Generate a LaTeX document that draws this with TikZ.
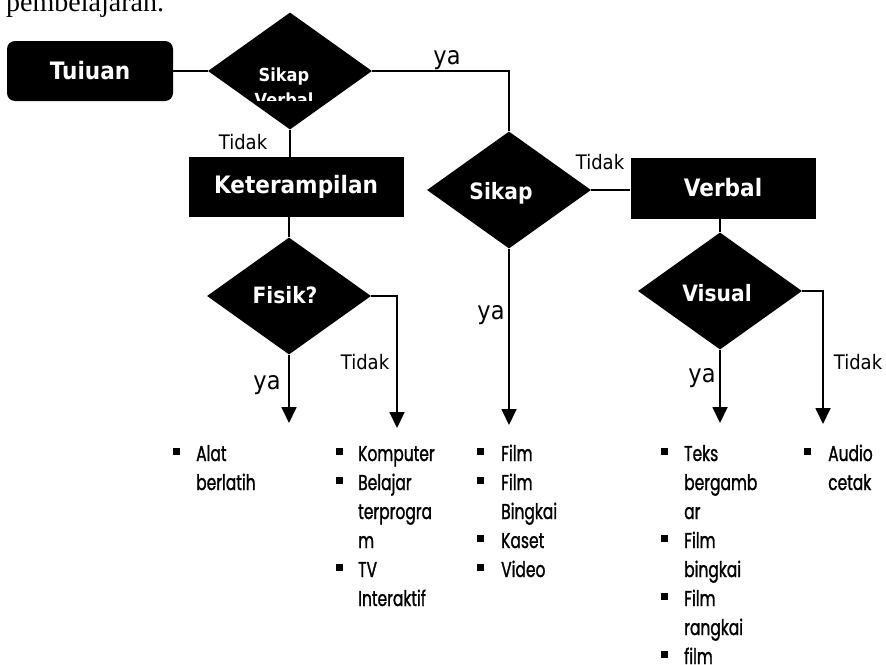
\documentclass[tikz,border=0pt]{standalone}
\usepackage{fontspec}
\usetikzlibrary{shapes.geometric,arrows.meta}
\setmainfont{Liberation Serif}
\newfontfamily\boxfont[FakeStretch=0.9]{DejaVu Sans}
\newfontfamily\listfont[FakeStretch=0.72,FakeBold=1.2]{Poppins}
\newcommand{\blt}{\rule[6pt]{7pt}{7pt}}
\tikzset{
  x=1pt,y=-1pt,
  conn/.style={line width=1.8pt,draw=black},
  arr/.style={conn,-{Triangle[width=15pt,length=16pt]}},
  bbox/.style={rectangle,fill=black,text=white,inner sep=0pt,font=\boxfont\bfseries\fontsize{24}{28}\selectfont},
  dia/.style={diamond,fill=black,inner sep=0pt,minimum width=164pt,minimum height=117pt},
  dtext/.style={text=white,inner sep=0pt,font=\boxfont\bfseries\fontsize{22.5}{26}\selectfont},
  lbl/.style={inner sep=0pt,font=\boxfont\fontsize{20}{24}\selectfont},
  yal/.style={inner sep=0pt,font=\boxfont\fontsize{25}{28}\selectfont},
  lst/.style={inner sep=0pt,anchor=base west,font=\listfont\fontsize{21.5}{29}\selectfont},
}
\begin{document}
\begin{tikzpicture}
\useasboundingbox (0,0) rectangle (886,664);
\begin{scope}
\clip (0,0) rectangle (886,664);
\node[anchor=base west,inner sep=0pt,font=\fontsize{28}{30}\selectfont] (top) at (6,11) {pembelajaran.};
\end{scope}
% nodes
\node[bbox,rounded corners=8pt,minimum width=166pt,minimum height=60pt] (tuj) at (90,71) {Tuiuan};
\node[dia] (d1) at (290,71) {};
\begin{scope}
\clip (200,20) rectangle (380,100);
\node[text=white,inner sep=0pt,align=center,font=\boxfont\bfseries\fontsize{18}{25}\selectfont,anchor=base] (d1t) at (284,106) {Sikap\\Verbal};
\end{scope}
\node[bbox,minimum width=215pt,minimum height=60pt] (ket) at (296,187) {Keterampilan};
\node[dia] (d2) at (509,190) {};
\node[dtext] (d2t) at (501,193) {Sikap};
\node[bbox,minimum width=185pt,minimum height=61pt] (verb) at (723,188) {Verbal};
\node[dia] (d3) at (289,296) {};
\node[dtext] (d3t) at (285,295) {Fisik?};
\node[dia] (d4) at (720,291) {};
\node[dtext] (d4t) at (717,293) {Visual};
% end points
\coordinate (e1) at (289,423);
\coordinate (e2) at (397,428);
\coordinate (e3) at (509,425);
\coordinate (e4) at (720,423);
\coordinate (e5) at (823,424);
% connectors
\draw[conn] (tuj.east) -- (d1.west);
\draw[conn] (d1.east) -| (d2.north);
\draw[conn] (d1.south) -- (d1.south |- ket.north);
\draw[conn] (d3.north |- ket.south) -- (d3.north);
\draw[conn] (d2.east) -- (d2.east -| verb.west);
\draw[conn] (d4.north |- verb.south) -- (d4.north);
\draw[arr] (d3.south) -- (e1);
\draw[arr] (d3.east) -| (e2);
\draw[arr] (d2.south) -- (e3);
\draw[arr] (d4.south) -- (e4);
\draw[arr] (d4.east) -| (e5);
% labels
\node[yal] (l1) at (447,60) {ya};
\node[lbl] (l2) at (243,142) {Tidak};
\node[lbl] (l3) at (600,162) {Tidak};
\node[yal] (l4) at (267,385) {ya};
\node[lbl] (l5) at (365,362) {Tidak};
\node[yal] (l6) at (491,315) {ya};
\node[yal] (l7) at (702,378) {ya};
\node[lbl] (l8) at (858,362) {Tidak};
% lists
\node[lst] (la) at (173,461) {\begin{tabular}[t]{@{}l@{\hspace{16pt}}l@{}}\blt & Alat\\ & berlatih\end{tabular}};
\node[lst] (lb) at (336,461) {\begin{tabular}[t]{@{}l@{\hspace{15pt}}l@{}}\blt & Komputer\\ \blt & Belajar\\ & terprogra\\ & m\\ \blt & TV\\ & Interaktif\end{tabular}};
\node[lst] (lc) at (477,461) {\begin{tabular}[t]{@{}l@{\hspace{17pt}}l@{}}\blt & Film\\ \blt & Film\\ & Bingkai\\ \blt & Kaset\\ \blt & Video\end{tabular}};
\node[lst] (ld) at (661,461) {\begin{tabular}[t]{@{}l@{\hspace{16pt}}l@{}}\blt & Teks\\ & bergamb\\ & ar\\ \blt & Film\\ & bingkai\\ \blt & Film\\ & rangkai\\ \blt & film\end{tabular}};
\node[lst] (le) at (804,461) {\begin{tabular}[t]{@{}l@{\hspace{17pt}}l@{}}\blt & Audio\\ & cetak\end{tabular}};
\end{tikzpicture}
\end{document}
